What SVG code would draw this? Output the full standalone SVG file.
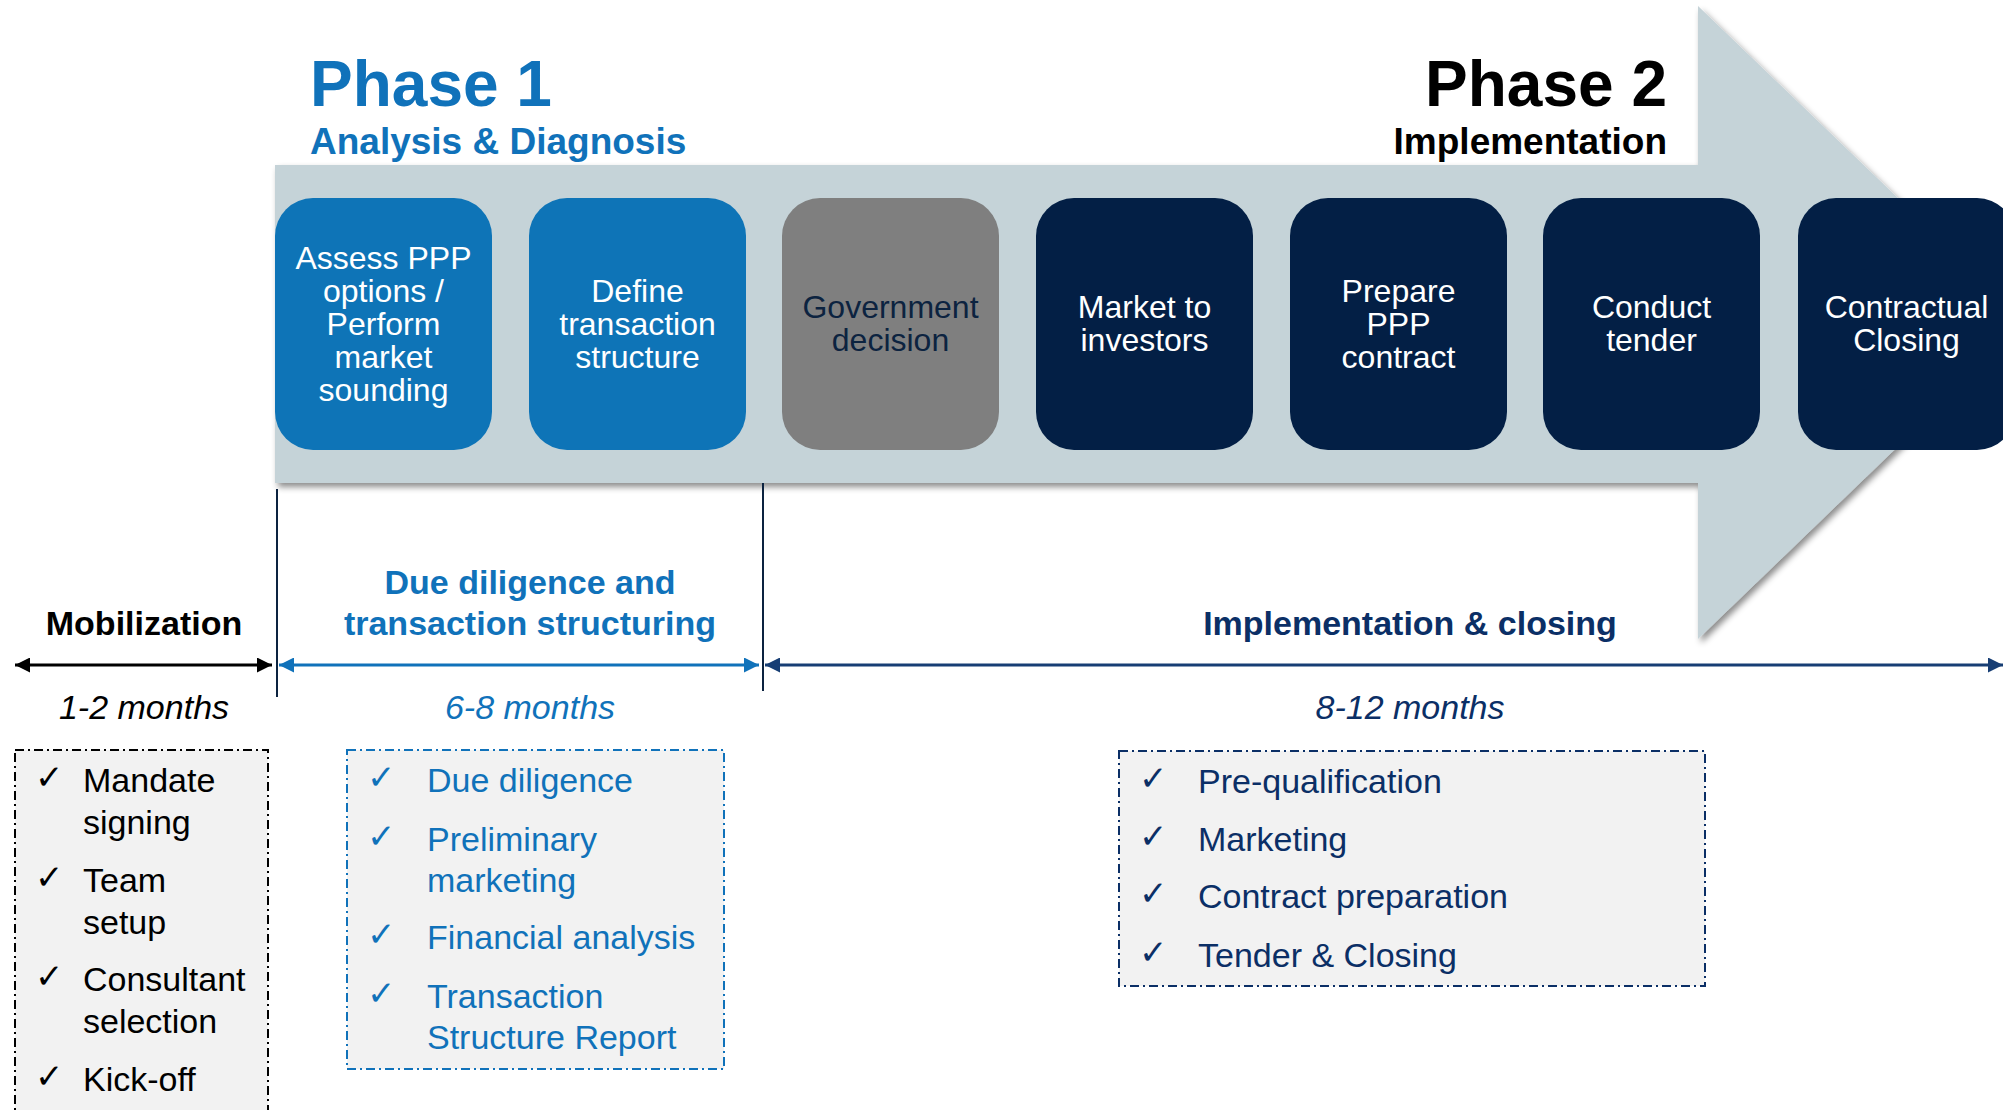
<svg xmlns="http://www.w3.org/2000/svg" width="2003" height="1110" viewBox="0 0 2003 1110">
<style>
text{font-family:"Liberation Sans",Arial,sans-serif}
.nt{font-size:32px;fill:#fff;text-anchor:middle}
.b{font-weight:bold}
.it{font-style:italic;font-size:34px;text-anchor:middle}
.li{font-size:34px}
.ck{font-family:"DejaVu Sans",sans-serif;font-size:34px}
.blue{fill:#1072BA}
.navy{fill:#0B2F66}
.box{stroke-width:2;stroke-dasharray:9 4 2 4}
</style>
<defs>
<filter id="sh" x="-5%" y="-5%" width="115%" height="120%">
<feDropShadow dx="3" dy="4" stdDeviation="3" flood-color="#000" flood-opacity="0.45"/>
</filter>
<marker id="ak" viewBox="0 0 10 10" refX="10" refY="5" markerWidth="5" markerHeight="5" orient="auto-start-reverse" markerUnits="strokeWidth"><path d="M0,0L10,5L0,10z" fill="#000"/></marker>
<marker id="ab" viewBox="0 0 10 10" refX="10" refY="5" markerWidth="5" markerHeight="5" orient="auto-start-reverse" markerUnits="strokeWidth"><path d="M0,0L10,5L0,10z" fill="#1072BA"/></marker>
<marker id="an" viewBox="0 0 10 10" refX="10" refY="5" markerWidth="5" markerHeight="5" orient="auto-start-reverse" markerUnits="strokeWidth"><path d="M0,0L10,5L0,10z" fill="#173E74"/></marker>
</defs>
<rect width="2003" height="1110" fill="#fff"/>
<polygon id="band" points="275,165 1698,165 1698,6 2027,322 1698,639 1698,483 275,483" fill="#C5D3D8" filter="url(#sh)"/>

<g id="titles">
<text x="310" y="106" class="b blue" font-size="64">Phase 1</text>
<text x="310" y="154" class="b blue" font-size="37">Analysis &amp; Diagnosis</text>
<text x="1667" y="106" class="b" font-size="64" text-anchor="end" fill="#000">Phase 2</text>
<text x="1667" y="154" class="b" font-size="37" text-anchor="end" fill="#000">Implementation</text>
</g>

<g id="n1"><rect x="275" y="198" width="217" height="252" rx="38" fill="#0E74B7"/>
<text class="nt"><tspan x="383.5" y="269">Assess PPP</tspan><tspan x="383.5" y="302">options /</tspan><tspan x="383.5" y="335">Perform</tspan><tspan x="383.5" y="368">market</tspan><tspan x="383.5" y="401">sounding</tspan></text></g>
<g id="n2"><rect x="529" y="198" width="217" height="252" rx="38" fill="#0E74B7"/>
<text class="nt"><tspan x="637.5" y="302">Define</tspan><tspan x="637.5" y="335">transaction</tspan><tspan x="637.5" y="368">structure</tspan></text></g>
<g id="n3"><rect x="782" y="198" width="217" height="252" rx="38" fill="#7F7F7F"/>
<text class="nt" style="fill:#0C2340"><tspan x="890.5" y="318">Government</tspan><tspan x="890.5" y="351">decision</tspan></text></g>
<g id="n4"><rect x="1036" y="198" width="217" height="252" rx="38" fill="#031F45"/>
<text class="nt"><tspan x="1144.5" y="318">Market to</tspan><tspan x="1144.5" y="351">investors</tspan></text></g>
<g id="n5"><rect x="1290" y="198" width="217" height="252" rx="38" fill="#031F45"/>
<text class="nt"><tspan x="1398.5" y="302">Prepare</tspan><tspan x="1398.5" y="335">PPP</tspan><tspan x="1398.5" y="368">contract</tspan></text></g>
<g id="n6"><rect x="1543" y="198" width="217" height="252" rx="38" fill="#031F45"/>
<text class="nt"><tspan x="1651.5" y="318">Conduct</tspan><tspan x="1651.5" y="351">tender</tspan></text></g>
<g id="n7"><rect x="1798" y="198" width="217" height="252" rx="38" fill="#031F45"/>
<text class="nt"><tspan x="1906.5" y="318">Contractual</tspan><tspan x="1906.5" y="351">Closing</tspan></text></g>

<g id="connectors" fill="none">
<line x1="277" y1="489" x2="277" y2="697" stroke="#0C2340" stroke-width="2"/>
<line x1="763" y1="483" x2="763" y2="691" stroke="#0C2340" stroke-width="2"/>
<line x1="15" y1="665" x2="272" y2="665" stroke="#000" stroke-width="3" marker-start="url(#ak)" marker-end="url(#ak)"/>
<line x1="279" y1="665" x2="759" y2="665" stroke="#1072BA" stroke-width="3" marker-start="url(#ab)" marker-end="url(#ab)"/>
<line x1="765" y1="665" x2="2003" y2="665" stroke="#173E74" stroke-width="3" marker-start="url(#an)" marker-end="url(#an)"/>
</g>

<g id="labels">
<text x="144" y="635" class="b" font-size="34" text-anchor="middle" fill="#000">Mobilization</text>
<text x="530" y="594" class="b blue" font-size="34" text-anchor="middle">Due diligence and</text>
<text x="530" y="635" class="b blue" font-size="34" text-anchor="middle">transaction structuring</text>
<text x="1410" y="635" class="b navy" font-size="34" text-anchor="middle">Implementation &amp; closing</text>
<text x="144" y="719" class="it" fill="#000">1-2 months</text>
<text x="530" y="719" class="it blue">6-8 months</text>
<text x="1410" y="719" class="it navy">8-12 months</text>
</g>

<g id="list1">
<rect x="15" y="750" width="253" height="380" fill="#F2F2F2" stroke="#000" class="box"/>
<g fill="#000">
<text x="35" y="789" class="ck">✓</text><text x="83" y="792" class="li">Mandate</text><text x="83" y="834" class="li">signing</text>
<text x="35" y="889" class="ck">✓</text><text x="83" y="892" class="li">Team</text><text x="83" y="934" class="li">setup</text>
<text x="35" y="988" class="ck">✓</text><text x="83" y="991" class="li">Consultant</text><text x="83" y="1033" class="li">selection</text>
<text x="35" y="1088" class="ck">✓</text><text x="83" y="1091" class="li">Kick-off</text>
</g></g>

<g id="list2">
<rect x="347" y="750" width="377" height="319" fill="#F2F2F2" stroke="#1072BA" class="box"/>
<g class="blue">
<text x="367" y="789" class="ck">✓</text><text x="427" y="792" class="li">Due diligence</text>
<text x="367" y="848" class="ck">✓</text><text x="427" y="851" class="li">Preliminary</text><text x="427" y="892" class="li">marketing</text>
<text x="367" y="946" class="ck">✓</text><text x="427" y="949" class="li">Financial analysis</text>
<text x="367" y="1005" class="ck">✓</text><text x="427" y="1008" class="li">Transaction</text><text x="427" y="1049" class="li">Structure Report</text>
</g></g>

<g id="list3">
<rect x="1119" y="751" width="586" height="235" fill="#F2F2F2" stroke="#0B2F66" class="box"/>
<g class="navy">
<text x="1139" y="790" class="ck">✓</text><text x="1198" y="793" class="li">Pre-qualification</text>
<text x="1139" y="848" class="ck">✓</text><text x="1198" y="851" class="li">Marketing</text>
<text x="1139" y="905" class="ck">✓</text><text x="1198" y="908" class="li">Contract preparation</text>
<text x="1139" y="964" class="ck">✓</text><text x="1198" y="967" class="li">Tender &amp; Closing</text>
</g></g>
</svg>
